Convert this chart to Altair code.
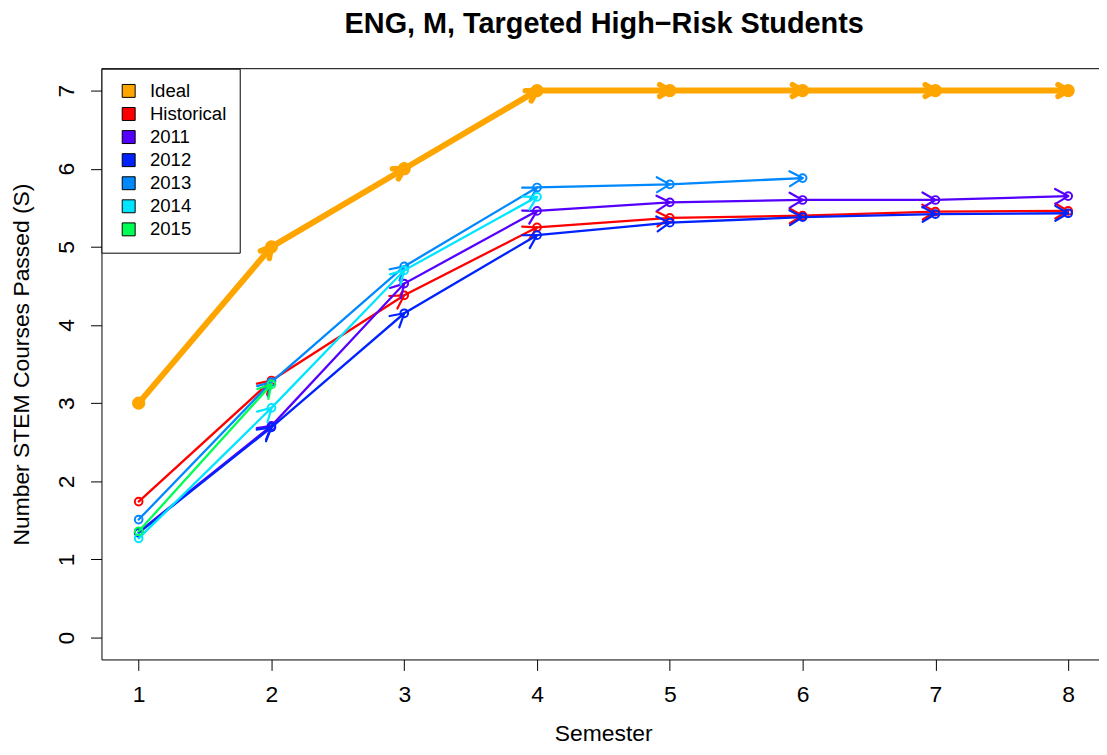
import altair as alt
import pandas as pd
import numpy as np

# ---------------- data ----------------
semesters = [1, 2, 3, 4, 5, 6, 7, 8]
series_names = ["Ideal", "Historical", "2011", "2012", "2013", "2014", "2015"]
series_colors = ["#FFA500", "#FF0000", "#5500FF", "#0022FF", "#0088FF", "#00E5FF", "#00FF55"]

ideal = [3, 5, 6, 7, 7, 7, 7, 7]
historical = [1.74, 3.29, 4.38, 5.25, 5.37, 5.40, 5.45, 5.46]
y2011 = [1.35, 2.71, 4.53, 5.46, 5.57, 5.60, 5.60, 5.65]
y2012 = [1.34, 2.69, 4.15, 5.15, 5.31, 5.38, 5.42, 5.43]
y2013 = [1.51, 3.27, 4.75, 5.76, 5.80, 5.88]
y2014 = [1.27, 2.94, 4.70, 5.64]
y2015 = [1.36, 3.24]

series_values = [ideal, historical, y2011, y2012, y2013, y2014, y2015]

# ---------------- layout ----------------
W, H = 1003, 594
XD = [0.72, 8.232]
YD = [-0.28, 7.28]
PX_X = W / (XD[1] - XD[0])
PX_Y = H / (YD[1] - YD[0])
FONT = "Liberation Sans"
ARROW = "M0,0L-0.866,-0.5M0,0L-0.866,0.5"


def frame(name, vals):
    n = len(vals)
    xs = semesters[:n]
    ang = [0.0]
    for i in range(1, n):
        dx = (xs[i] - xs[i - 1]) * PX_X
        dy = -(vals[i] - vals[i - 1]) * PX_Y
        ang.append(float(np.degrees(np.arctan2(dy, dx)) % 360))
    return pd.DataFrame({"semester": xs, "value": vals, "angle": ang,
                         "idx": list(range(n)), "series": name})


x_enc = alt.X(
    "semester:Q",
    scale=alt.Scale(domain=XD, nice=False, zero=False),
    axis=alt.Axis(
        title="Semester", values=semesters, format="d", grid=False,
        domainColor="black", domainWidth=1, tickColor="black", tickWidth=1, tickSize=11,
        labelFont=FONT, labelFontSize=23, labelColor="black",
        labelBaseline="alphabetic", labelPadding=31,
        titleFont=FONT, titleFontSize=23, titleFontWeight="normal", titleColor="black",
        titleBaseline="alphabetic", titleY=81, titleX=W / 2 + 3, titleAlign="center",
    ),
)
y_enc = alt.Y(
    "value:Q",
    scale=alt.Scale(domain=YD, nice=False, zero=False),
    axis=alt.Axis(
        title="Number STEM Courses Passed (S)", values=list(range(0, 8)), format="d", grid=False,
        domainColor="black", domainWidth=1, tickColor="black", tickWidth=1, tickSize=11,
        labelFont=FONT, labelFontSize=23, labelColor="black",
        labelAngle=270, labelAlign="center", labelBaseline="alphabetic", labelPadding=17,
        titleFont=FONT, titleFontSize=23, titleFontWeight="normal", titleColor="black",
        titleAngle=270, titleAlign="center", titleBaseline="alphabetic",
        titleX=-73, titleY=H / 2,
    ),
)

layers = []
for name, vals, col in zip(series_names, series_values, series_colors):
    df = frame(name, vals)
    base = alt.Chart(df)
    if name == "Ideal":
        lw, aw, asz = 6, 5.5, 560
        circ = base.mark_point(shape="circle", filled=True, size=177, color=col, opacity=1)
    else:
        lw, aw, asz = 2.3, 2.2, 900
        circ = base.mark_point(shape="circle", filled=False, size=60, strokeWidth=2,
                               color=col, opacity=1)
    line = base.mark_line(color=col, strokeWidth=lw, strokeCap="round").encode(
        x=x_enc, y=y_enc, order="idx:Q")
    arrows = base.mark_point(shape=ARROW, filled=False, size=asz, strokeWidth=aw,
                             color=col, opacity=1, strokeCap="round").encode(
        x=x_enc, y=y_enc, angle=alt.Angle("angle:Q", scale=None)
    ).transform_filter("datum.idx > 0")
    circ = circ.encode(x=x_enc, y=y_enc)
    layers += [line, arrows, circ]

# top border of the plot box
top_rule = alt.Chart(pd.DataFrame({"series": ["box"]})).mark_rule(
    color="black", strokeWidth=1).encode(
    x=alt.value(0), x2=alt.value(W), y=alt.value(0))
layers.append(top_rule)

# legend layer (no drawn data, legend only)
legend_layer = alt.Chart(pd.DataFrame({"series": series_names})).mark_square(
    size=169, stroke="black", strokeWidth=1, opacity=1).encode(
    fill=alt.Fill(
        "series:N",
        scale=alt.Scale(domain=series_names, range=series_colors),
        legend=alt.Legend(
            orient="none", legendX=0, legendY=0, title=None,
            symbolType="square", symbolSize=169, symbolStrokeColor="black",
            symbolStrokeWidth=1, symbolOpacity=1,
            labelFont=FONT, labelFontSize=18.7, labelColor="black", labelLimit=0,
            padding=13, symbolOffset=5, labelOffset=12, rowPadding=3.2,
            strokeColor="black", fillColor="white", cornerRadius=0,
        ),
    )
).transform_filter("false")
layers.append(legend_layer)

chart = alt.layer(*layers).properties(
    width=W, height=H,
    title=alt.TitleParams(
        "ENG, M, Targeted High\u2212Risk Students",
        font=FONT, fontSize=29, fontWeight="bold", color="black",
        anchor="middle", baseline="alphabetic", offset=6, dx=4,
    ),
    autosize=alt.AutoSizeParams(type="none"),
    padding={"left": 94, "top": 59, "right": 0, "bottom": 86},
    background="white",
).configure_view(strokeWidth=0)

chart.save("out.html", embed_options={"renderer": "svg", "actions": False})
